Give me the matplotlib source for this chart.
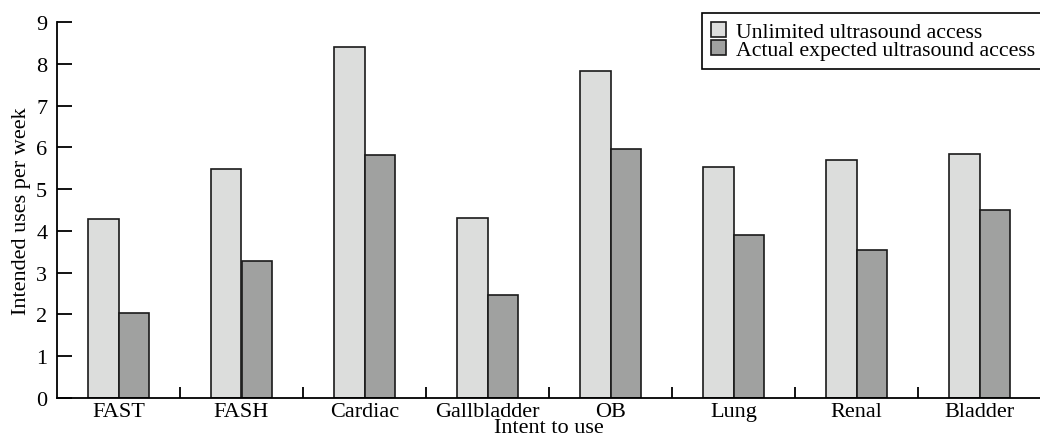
import numpy as np
import matplotlib
matplotlib.use('Agg')
import matplotlib.pyplot as plt
from matplotlib.ticker import FixedLocator, NullFormatter

# 자료
categories = ['FAST', 'FASH', 'Cardiac', 'Gallbladder', 'OB', 'Lung', 'Renal', 'Bladder']
unlimited = [4.28, 5.48, 8.40, 4.31, 7.82, 5.53, 5.69, 5.84]
actual = [2.03, 3.28, 5.81, 2.46, 5.97, 3.90, 3.54, 4.51]
series_labels = ['Unlimited ultrasound access', 'Actual expected ultrasound access']

plt.rcParams['font.family'] = ['Liberation Serif', 'DejaVu Serif']
plt.rcParams['font.size'] = 16

fig = plt.figure(figsize=(10.4, 4.39), dpi=100)
ax = fig.add_axes([57 / 1040, 40 / 439, 984 / 1040, 376 / 439])

x = np.arange(len(categories))
w = 0.245
ax.bar(x - w / 2, unlimited, w, color='#dcdddc', edgecolor='#1a1a1a', linewidth=1.2,
       label=series_labels[0])
ax.bar(x + w / 2, actual, w, color='#a0a1a0', edgecolor='#1a1a1a', linewidth=1.2,
       label=series_labels[1])

ax.set_xlim(-0.5, len(categories) - 0.5)
ax.set_ylim(0, 9)
ax.set_yticks(range(10))
ax.set_xticks(x)
ax.set_xticklabels(categories)
ax.xaxis.set_minor_locator(FixedLocator(x + 0.5))
ax.xaxis.set_minor_formatter(NullFormatter())
ax.tick_params(axis='x', which='major', length=0, pad=3)
ax.tick_params(axis='x', which='minor', direction='in', length=8, width=1.3)
ax.tick_params(axis='y', direction='in', length=11, width=1.3, pad=7)

for side in ['top', 'right']:
    ax.spines[side].set_visible(False)
for side in ['left', 'bottom']:
    ax.spines[side].set_linewidth(1.3)

ax.set_ylabel('Intended uses per week', labelpad=4)
ax.set_xlabel('Intent to use', labelpad=-2)

leg = ax.legend(loc='upper left', bbox_to_anchor=(702 / 1040, 1 - 14 / 439),
                bbox_transform=fig.transFigure, fancybox=False, framealpha=1,
                edgecolor='black', fontsize=15.7, handlelength=0.7, handleheight=0.7,
                handletextpad=0.45, labelspacing=-0.1, borderpad=0.4,
                borderaxespad=0)
leg.get_frame().set_linewidth(1.2)

fig.savefig('out.png', dpi=100)
